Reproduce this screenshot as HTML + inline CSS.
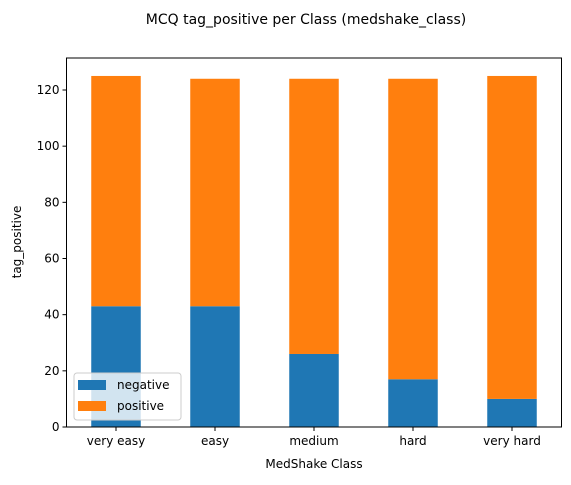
<!DOCTYPE html>
<html><head><meta charset="utf-8"><style>
body{margin:0;background:#fff;}
svg text{font-family:"DejaVu Sans","Liberation Sans",sans-serif;}
</style></head><body>
<svg id="chart" width="571" height="480" xmlns="http://www.w3.org/2000/svg">
<text x="306" y="24" font-size="14" text-anchor="middle">MCQ tag_positive per Class (medshake_class)</text>
<g id="bars"></g>
<g id="axes"></g>
<text x="314" y="468" font-size="12" text-anchor="middle">MedShake Class</text>
<text x="0" y="0" font-size="12" text-anchor="middle" transform="translate(21,242) rotate(-90)">tag_positive</text>
<g>
<rect x="74" y="373" width="107" height="47" rx="3" fill="#fff" fill-opacity="0.8" stroke="#ccc"/>
<rect x="78" y="380" width="28" height="10" fill="#1f77b4"/>
<text x="117" y="389" font-size="12">negative</text>
<rect x="78" y="401" width="28" height="10" fill="#ff7f0e"/>
<text x="117" y="410" font-size="12">positive</text>
</g>
</svg>
<script>
const categories=["very easy","easy","medium","hard","very hard"];
const negativeValues=[43,43,26,17,10];
const positiveValues=[82,81,98,107,115];
const yTicks=[0,20,40,60,80,100,120];
const L=66.5,R=561.5,T=58,B=427;
const x=i=>L+(i+0.5)*(R-L)/categories.length;
const y=v=>B-v*(B-90)/120;
const NS="http://www.w3.org/2000/svg";
function mk(tag,attrs,parent){const e=document.createElementNS(NS,tag);for(const k in attrs)e.setAttribute(k,attrs[k]);parent.appendChild(e);return e;}
const bars=document.getElementById('bars'),axes=document.getElementById('axes');
const bw=49.5;
categories.forEach((c,i)=>{
  const n=negativeValues[i],p=positiveValues[i];
  const r1=mk('rect',{x:x(i)-bw/2,y:y(n),width:bw,height:y(0)-y(n),fill:'#1f77b4'},bars);
  
  
  const r2=mk('rect',{x:x(i)-bw/2,y:y(n+p),width:bw,height:y(n)-y(n+p),fill:'#ff7f0e'},bars);
  
  
  mk('line',{x1:x(i),x2:x(i),y1:B,y2:B+4,stroke:'#000'},axes);
  const t=mk('text',{x:x(i),y:B+18,'font-size':12,'text-anchor':'middle'},axes);
  t.textContent=c;
  
  
});
yTicks.forEach(v=>{
  mk('line',{x1:L-4,x2:L,y1:y(v),y2:y(v),stroke:'#000'},axes);
  const t=mk('text',{x:L-7,y:y(v)+4,'font-size':12,'text-anchor':'end'},axes);
  t.textContent=v;
  
  
});
const f=mk('rect',{x:L,y:T,width:R-L,height:B-T,fill:'none',stroke:'#000','stroke-width':1},axes);


</script>
</body></html>
